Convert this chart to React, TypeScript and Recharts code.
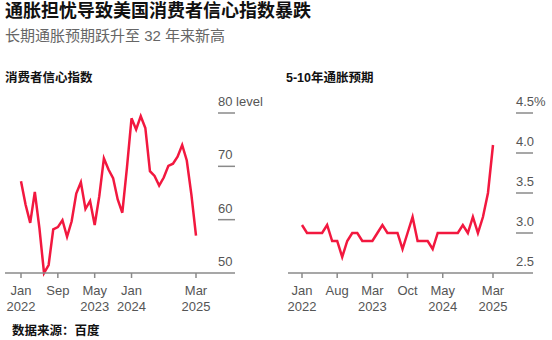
import React from 'react'
import { LineChart, Line, XAxis, YAxis } from 'recharts'

const FONT = '"Liberation Sans", Arial, "Noto Sans CJK SC", sans-serif'
const RED = '#f2183f'
const GREY_TEXT = '#555'
const GREY_LINE = '#8a8a8a'

const MONTHS = [
  'Jan 2022', 'Feb 2022', 'Mar 2022', 'Apr 2022', 'May 2022', 'Jun 2022',
  'Jul 2022', 'Aug 2022', 'Sep 2022', 'Oct 2022', 'Nov 2022', 'Dec 2022',
  'Jan 2023', 'Feb 2023', 'Mar 2023', 'Apr 2023', 'May 2023', 'Jun 2023',
  'Jul 2023', 'Aug 2023', 'Sep 2023', 'Oct 2023', 'Nov 2023', 'Dec 2023',
  'Jan 2024', 'Feb 2024', 'Mar 2024', 'Apr 2024', 'May 2024', 'Jun 2024',
  'Jul 2024', 'Aug 2024', 'Sep 2024', 'Oct 2024', 'Nov 2024', 'Dec 2024',
  'Jan 2025', 'Feb 2025', 'Mar 2025',
]

// consumer sentiment index (level)
const SENTIMENT = [
  67.2, 62.8, 59.4, 65.2, 58.4, 50.0, 51.5, 58.2, 58.6, 59.9, 56.8, 59.7,
  64.9, 67.0, 62.0, 63.5, 59.0, 64.4, 71.5, 69.4, 67.8, 63.8, 61.3, 69.7,
  79.0, 76.9, 79.4, 77.2, 69.1, 68.2, 66.4, 67.9, 70.1, 70.5, 71.8, 74.0,
  71.1, 64.7, 57.0,
]

// 5-10 year inflation expectations (%)
const EXPECT = [
  3.1, 3.0, 3.0, 3.0, 3.0, 3.1, 2.9, 2.9, 2.7, 2.9, 3.0, 3.0,
  2.9, 2.9, 2.9, 3.0, 3.1, 3.0, 3.0, 3.0, 2.8, 3.0, 3.2, 2.9,
  2.9, 2.9, 2.8, 3.0, 3.0, 3.0, 3.0, 3.0, 3.1, 3.0, 3.2, 3.0,
  3.2, 3.5, 4.1,
]

const SENT_Y_TICKS = [50, 60, 70, 80]
const EXP_Y_TICKS = [2.5, 3.0, 3.5, 4.0, 4.5]

const SENT_X_TICKS = [0, 8, 16, 24, 38]
const SENT_X_LABELS = [['Jan', '2022'], ['Sep', ''], ['May', '2023'], ['Jan', '2024'], ['Mar', '2025']]
const EXP_X_TICKS = [0, 7, 14, 21, 28, 38]
const EXP_X_LABELS = [['Jan', '2022'], ['Aug', ''], ['Mar', '2023'], ['Oct', ''], ['May', '2024'], ['Mar', '2025']]

const sentData = MONTHS.map((m, i) => ({ i, month: m, v: SENTIMENT[i] }))
const expData = MONTHS.map((m, i) => ({ i, month: m, v: EXPECT[i] }))

const YTick = ({ x, y, payload, fmt }: any) => (
  <g>
    <text x={x} y={y - 7} fill={GREY_TEXT} fontSize={13} fontFamily={FONT} textAnchor="start">
      {fmt(payload.value)}
    </text>
    <line x1={x} x2={x + 17} y1={y} y2={y} stroke={GREY_LINE} strokeWidth={1.5} />
  </g>
)

const XTick = ({ x, y, payload, ticks, labels }: any) => {
  const idx = ticks.indexOf(payload.value)
  const [mon, yr] = labels[idx] || ['', '']
  return (
    <g fill={GREY_TEXT} fontSize={13} fontFamily={FONT}>
      <text x={x} y={y + 15} textAnchor="middle">{mon}</text>
      {yr && <text x={x} y={y + 31} textAnchor="middle">{yr}</text>}
    </g>
  )
}

const sentFmt = (v: number) => (v === 80 ? '80 level' : String(v))
const expFmt = (v: number) => (v === 4.5 ? '4.5%' : v.toFixed(1))

function Panel({ data, yDomain, yTicks, fmt, xTicks, xLabels, margin, yWidth, padding }: any) {
  return (
    <LineChart width={276} height={340} data={data} margin={margin}>
      <XAxis
        dataKey="i"
        type="number"
        domain={[0, MONTHS.length - 1]}
        ticks={xTicks}
        interval={0}
        padding={padding}
        height={40}
        axisLine={{ stroke: GREY_LINE, strokeWidth: 1.5 }}
        tickLine={{ stroke: GREY_LINE, strokeWidth: 1.5 }}
        tickSize={5}
        tickMargin={2}
        tick={<XTick ticks={xTicks} labels={xLabels} />}
      />
      <YAxis
        orientation="right"
        type="number"
        domain={yDomain}
        ticks={yTicks}
        interval={0}
        width={yWidth}
        axisLine={false}
        tickLine={false}
        tickSize={0}
        tickMargin={0}
        tick={<YTick fmt={fmt} />}
      />
      <Line
        type="linear"
        dataKey="v"
        stroke={RED}
        strokeWidth={2.5}
        dot={false}
        isAnimationActive={false}
      />
    </LineChart>
  )
}

export default function App() {
  return (
    <div style={{ position: 'absolute', left: 0, top: 0, width: 552, height: 340, background: '#fff', fontFamily: FONT, overflow: 'hidden' }}>
      <div style={{ position: 'absolute', left: 0 }}>
        <Panel
          data={sentData}
          yDomain={[50, 80]}
          yTicks={SENT_Y_TICKS}
          fmt={sentFmt}
          xTicks={SENT_X_TICKS}
          xLabels={SENT_X_LABELS}
          margin={{ top: 113, right: 18, bottom: 27, left: 5 }}
          yWidth={40}
          padding={{ left: 16, right: 22 }}
        />
      </div>
      <div style={{ position: 'absolute', left: 276, top: 0 }}>
        <Panel
          data={expData}
          yDomain={[2.5, 4.5]}
          yTicks={EXP_Y_TICKS}
          fmt={expFmt}
          xTicks={EXP_X_TICKS}
          xLabels={EXP_X_LABELS}
          margin={{ top: 113, right: 0, bottom: 27, left: 12 }}
          yWidth={36}
          padding={{ left: 14, right: 23 }}
        />
      </div>

      <div style={{ position: 'absolute', left: 5, top: 2, fontSize: 18, lineHeight: '18px', fontWeight: 700, color: '#111', whiteSpace: 'nowrap' }}>
        通胀担忧导致美国消费者信心指数暴跌
      </div>
      <div style={{ position: 'absolute', left: 5, top: 28, fontSize: 15, lineHeight: '16px', color: '#666', whiteSpace: 'nowrap' }}>
        长期通胀预期跃升至 32 年来新高
      </div>
      <div style={{ position: 'absolute', left: 5, top: 71, fontSize: 12.5, lineHeight: '14px', fontWeight: 700, color: '#111', whiteSpace: 'nowrap' }}>
        消费者信心指数
      </div>
      <div style={{ position: 'absolute', left: 286, top: 71, fontSize: 12.5, lineHeight: '14px', fontWeight: 700, color: '#111', whiteSpace: 'nowrap' }}>
        5-10年通胀预期
      </div>
      <div style={{ position: 'absolute', left: 12, top: 324, fontSize: 12.5, lineHeight: '14px', fontWeight: 700, color: '#111', whiteSpace: 'nowrap' }}>
        数据来源：百度
      </div>
    </div>
  )
}
